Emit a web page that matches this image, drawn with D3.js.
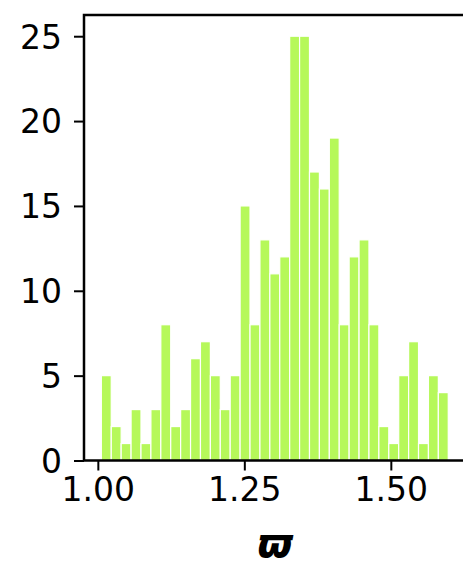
<!DOCTYPE html>
<html>
<head>
<meta charset="utf-8">
<script src="https://cdn.jsdelivr.net/npm/d3@7"></script>
<style>
  html, body { margin: 0; padding: 0; background: #fff; overflow: hidden; }
  text { font-family: "DejaVu Sans", sans-serif; }
</style>
</head>
<body>
<div id="chart"></div>
<script>
// histogram counts, bins run from binStart to binEnd
var counts = [5, 2, 1, 3, 1, 3, 8, 2, 3, 6, 7, 5, 3, 5, 15, 8, 13, 11, 12, 25,
              25, 17, 16, 19, 8, 12, 13, 8, 2, 1, 5, 7, 1, 5, 4];
var binStart = 1.006;
var binEnd = 1.598;
var xTicks = [1.00, 1.25, 1.50];
var yTicks = [0, 5, 10, 15, 20, 25];
var xLabel = "\u03D6";

var width = 463, height = 566;
var margin = {top: 15, left: 84, right: -2.6, bottom: 105.5};

var svg = d3.select("#chart").append("svg")
    .attr("width", width)
    .attr("height", height);

// bin edges
var binW = (binEnd - binStart) / counts.length;
var bins = counts.map(function(c, i) {
    return {x0: binStart + i * binW, x1: binStart + (i + 1) * binW, n: c};
});

// matplotlib-like 5% margins
var xpad = (binEnd - binStart) * 0.05;
var x = d3.scaleLinear()
    .domain([binStart - xpad, binEnd + xpad])
    .range([margin.left, width - margin.right]);
var y = d3.scaleLinear()
    .domain([0, d3.max(counts) * 1.05])
    .range([height - margin.bottom, margin.top]);

// bars
svg.append("g").selectAll("rect")
    .data(bins)
    .enter()
    .append("rect")
    .attr("x", function(d) { return x(d.x0); })
    .attr("y", function(d) { return y(d.n); })
    .attr("width", function(d) { return x(d.x1) - x(d.x0); })
    .attr("height", function(d) { return y(0) - y(d.n); })
    .attr("fill", "#b6f85a")
    .attr("stroke", "#fff")
    .attr("stroke-width", 1.2);

// axes
var gx = svg.append("g")
    .attr("transform", "translate(0," + y(0) + ")")
    .call(d3.axisBottom(x).tickValues(xTicks).tickFormat(d3.format(".2f"))
        .tickSize(10).tickPadding(7));
var gy = svg.append("g")
    .attr("transform", "translate(" + x.range()[0] + ",0)")
    .call(d3.axisLeft(y).tickValues(yTicks).tickSize(10).tickPadding(12));

[gx, gy].forEach(function(g) {
    g.select(".domain").remove();
    g.selectAll("line").attr("stroke", "#000").attr("stroke-width", 2);
    g.selectAll("text")
        .attr("fill", "#000")
        .style("font-size", "33px")
        .style("font-family", "'DejaVu Sans', sans-serif");
});
gy.selectAll("text").attr("dy", "0.36em");

// frame
svg.append("rect")
    .attr("x", x.range()[0])
    .attr("y", y.range()[1])
    .attr("width", x.range()[1] - x.range()[0])
    .attr("height", y.range()[0] - y.range()[1])
    .attr("fill", "none")
    .attr("stroke", "#000")
    .attr("stroke-width", 2.5);

// x label
svg.append("text")
    .attr("x", (x.range()[0] + x.range()[1]) / 2)
    .attr("y", 557)
    .attr("text-anchor", "middle")
    .style("font-size", "40px")
    .style("font-weight", "bold")
    .style("font-style", "italic")
    .text(xLabel);
</script>
</body>
</html>
